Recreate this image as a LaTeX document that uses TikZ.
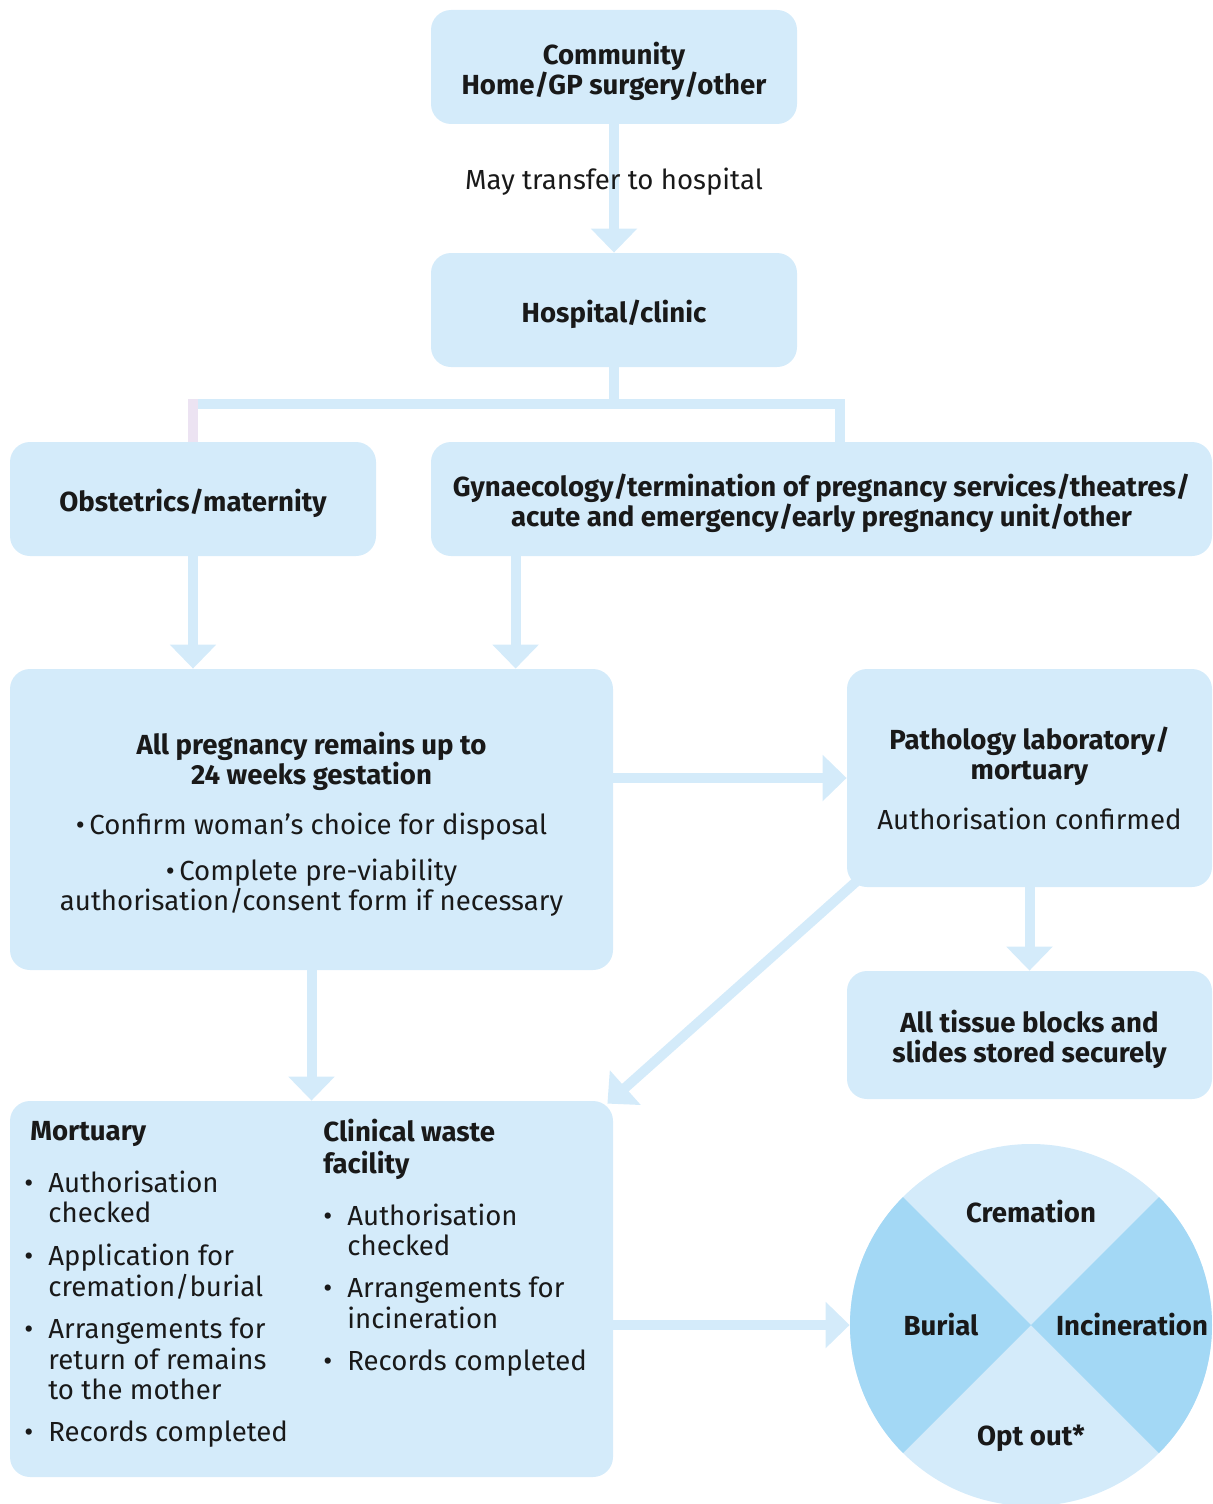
\documentclass[tikz,border=0pt]{standalone}
\usepackage{fontspec}
\setmainfont{Fira Sans}
\usetikzlibrary{arrows.meta,calc}
\definecolor{paleblue}{HTML}{D4EBFA}
\definecolor{deepblue}{HTML}{A3D8F5}
\definecolor{palepink}{HTML}{ECE3F2}
\newcommand{\lift}{\rule{0pt}{15.5pt}}

\begin{document}
\begin{tikzpicture}[x=0.5pt,y=-0.5pt,
    every node/.style={font=\fontsize{13.8}{15}\selectfont,text=black!90},
    title/.style={font=\fontsize{13.8}{15}\selectfont\bfseries},
    box/.style={fill=paleblue,rounded corners=10pt,inner sep=0pt,align=center},
    flow/.style={paleblue,line width=5pt,-{Triangle[length=12pt,width=22.5pt]}},
    link/.style={paleblue,line width=5pt}]
  \useasboundingbox (0,0) rectangle (1213,1504);
  \clip (0,0) rectangle (1213,1504);

  % top of the chart
  \node[box,title,minimum width=183pt,minimum height=57pt] (community) at (614,67)
    {\lift Community\\Home/GP surgery/other};
  \node[box,title,minimum width=183pt,minimum height=57pt] (hospital) at (614,310)
    {\lift Hospital/clinic};
  \draw[flow] (community.south) -- (hospital.north);
  \node (transfer) at (614,182) {May transfer to hospital};

  % services
  \node[box,title,minimum width=183pt,minimum height=57pt] (obstetrics) at (193,499)
    {\lift Obstetrics/maternity};
  \node[box,title,minimum width=390.5pt,minimum height=57pt] (gynae) at (821.5,499)
    {\lift Gynaecology/termination of pregnancy services/theatres/\\
     acute and emergency/early pregnancy unit/other};
  \coordinate (bus) at (614,404);
  \draw[link] (hospital.south) -- (bus);
  \draw[link] (193,404) -- (840,404) -- (840,442);
  \draw[palepink,line width=5pt] (193,399) -- (obstetrics.north);

  % remains
  \node[box,minimum width=301.5pt,minimum height=150.5pt] (remains) at (311.5,819.5)
    {\lift\textbf{All pregnancy remains up to}\\
     \textbf{24 weeks gestation}\\[10pt]
     \textbullet\,Confirm woman’s choice for disposal\\[8pt]
     \textbullet\,Complete pre-viability\\
     authorisation/consent form if necessary};
  \draw[flow] (obstetrics.south) -- (obstetrics.south |- remains.north);
  \draw[flow] ([xshift=42.5pt]gynae.south west) -- ([xshift=42.5pt]gynae.south west |- remains.north);

  % pathology
  \node[box,minimum width=182.5pt,minimum height=109pt] (pathology) at (1029.5,778)
    {\textbf{Pathology laboratory/}\\
     \textbf{mortuary}\\[10pt]
     Authorisation confirmed};
  \node[box,title,minimum width=182.5pt,minimum height=64pt] (tissue) at (1029.5,1035)
    {\lift All tissue blocks and\\slides stored securely};
  \draw[flow] (remains.east |- pathology.west) -- (pathology.west);
  \draw[flow] (pathology.south) -- (tissue.north);

  % disposal routes
  \node[box,minimum width=301.5pt,minimum height=188pt] (disposal) at (311.5,1289) {};
  \draw[flow] (remains.south) -- (disposal.north);
  \draw[flow] ($(pathology.south west)+(11,-7)$) -- ($(disposal.north east)+(-6,3)$);

  \node[anchor=north west,inner sep=0pt] (mortuary) at (24,1119)
    {\begin{tabular}{@{}p{9pt}@{\hspace{3pt}}l@{}}
     \multicolumn{2}{@{\hspace{3pt}}l}{\textbf{Mortuary}}\\[11pt]
     \textbullet & Authorisation\\
                 & checked\\[6pt]
     \textbullet & Application for\\
                 & cremation/burial\\[6pt]
     \textbullet & Arrangements for\\
                 & return of remains\\
                 & to the mother\\[6pt]
     \textbullet & Records completed
     \end{tabular}};
  \node[anchor=north west,inner sep=0pt] (waste) at (323,1119)
    {\begin{tabular}{@{}p{9pt}@{\hspace{3pt}}l@{}}
     \multicolumn{2}{@{}l}{\textbf{Clinical waste}}\\
     \multicolumn{2}{@{}l}{\textbf{facility}}\\[11pt]
     \textbullet & Authorisation\\
                 & checked\\[6pt]
     \textbullet & Arrangements for\\
                 & incineration\\[6pt]
     \textbullet & Records completed
     \end{tabular}};

  % outcome wheel
  \node[circle,fill=paleblue,minimum size=181pt,inner sep=0pt] (options) at (1031,1325) {};
  \begin{scope}
    \clip (options.center) circle[radius=90.5pt];
    \fill[deepblue] (options.center) -- ++(-200,-200) -- ++(0,400) -- cycle;
    \fill[deepblue] (options.center) -- ++(200,-200) -- ++(0,400) -- cycle;
  \end{scope}
  \draw[flow] (disposal.east |- options.west) -- (options.west);
  \node[title] (cremation) at (1031,1212) {Cremation};
  \node[title] (burial) at (941,1325) {Burial};
  \node[title] (incineration) at (1132,1325) {Incineration};
  \node[title] (optout) at (1031,1438) {Opt out*};
\end{tikzpicture}
\end{document}
